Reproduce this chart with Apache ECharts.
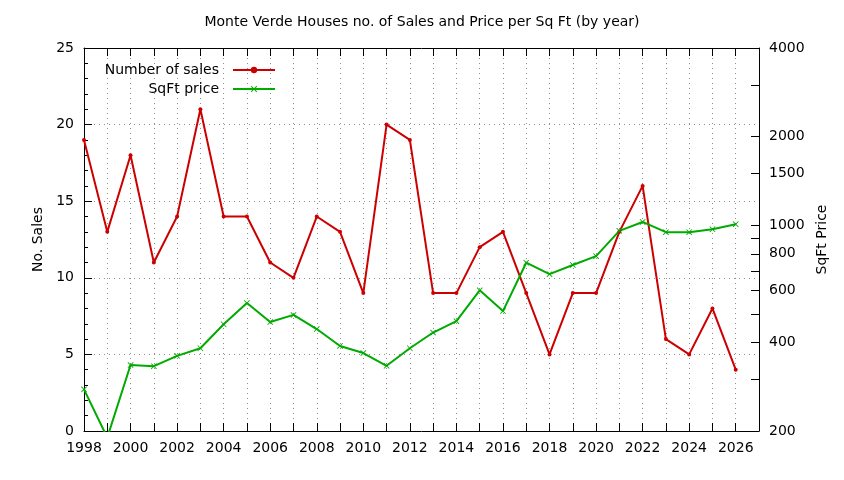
<!DOCTYPE html>
<html>
<head>
<meta charset="utf-8">
<script src="https://cdn.jsdelivr.net/npm/echarts@6/dist/echarts.min.js"></script>
<style>
  html, body { margin: 0; padding: 0; background: #fff; }
  #chart { width: 844px; height: 480px; }
</style>
</head>
<body>
<div id="chart"></div>
<script>
// years on the x axis
const years = [1998, 1999, 2000, 2001, 2002, 2003, 2004, 2005, 2006, 2007,
  2008, 2009, 2010, 2011, 2012, 2013, 2014, 2015, 2016, 2017,
  2018, 2019, 2020, 2021, 2022, 2023, 2024, 2025, 2026];

// number of sales (left axis)
const salesCount = [19, 13, 18, 11, 14, 21, 14, 14, 11, 10,
  14, 13, 9, 20, 19, 9, 9, 12, 13, 9,
  5, 9, 9, 13, 16, 6, 5, 8, 4];

// price per sq ft (right log axis)
const sqftPrice = [277, 190, 335, 332, 360, 382, 461, 544, 469, 496,
  444, 389, 368, 333, 382, 432, 472, 601, 511, 746,
  682, 733, 785, 957, 1026, 947, 947, 969, 1008];

const priceLabels = [200, 400, 600, 800, 1000, 1500, 2000, 4000];
const priceTicks = [200, 300, 400, 500, 600, 700, 800, 900, 1000, 1500, 2000, 3000, 4000];

const FONT = 'DejaVu Sans';
// small "x" marker like gnuplot's point type
const crossPath = 'path://M0,1L1,0L5,4L9,0L10,1L6,5L10,9L9,10L5,6L1,10L0,9L4,5Z';

const chart = echarts.init(document.getElementById('chart'));

const legendText = { fontFamily: FONT, fontSize: 14, color: '#000', padding: [0, 9, 0, 0] };
const gridLine = { show: true, lineStyle: { color: '#909090', type: [1, 4], width: 1 } };

chart.setOption({
  animation: false,
  backgroundColor: '#fff',
  textStyle: { fontFamily: FONT },
  title: {
    text: 'Monte Verde Houses no. of Sales and Price per Sq Ft (by year)',
    left: 'center',
    top: 10,
    textStyle: { fontFamily: FONT, fontSize: 14, fontWeight: 'normal', color: '#000' }
  },
  legend: [
    {
      data: ['Number of sales'],
      right: 563, top: 58,
      align: 'right',
      itemWidth: 42, itemHeight: 8, itemGap: 0,
      textStyle: legendText
    },
    {
      data: ['SqFt price'],
      right: 563, top: 77,
      align: 'right',
      itemWidth: 42, itemHeight: 8, itemGap: 0,
      textStyle: legendText
    }
  ],
  grid: { left: 84, right: 85, top: 48, bottom: 49 },
  xAxis: [
    {
      type: 'value',
      min: 1998, max: 2027, interval: 1,
      axisLine: { lineStyle: { color: '#000', width: 1 } },
      axisTick: { inside: true, length: 8, lineStyle: { color: '#000' } },
      axisLabel: {
        color: '#000', fontSize: 14, fontFamily: FONT, margin: 10,
        formatter: v => (v % 2 === 0 && v <= 2026 ? String(v) : '')
      },
      splitLine: gridLine
    },
    {
      type: 'value', position: 'top',
      min: 1998, max: 2027, interval: 1,
      axisLine: { lineStyle: { color: '#000', width: 1 } },
      axisTick: { inside: true, length: 8, lineStyle: { color: '#000' } },
      axisLabel: { show: false },
      splitLine: { show: false }
    }
  ],
  yAxis: [
    {
      type: 'value',
      min: 0, max: 25, interval: 5,
      name: 'No. Sales',
      nameLocation: 'middle',
      nameGap: 33,
      nameTextStyle: { color: '#000', fontSize: 14, fontFamily: FONT },
      axisLine: { show: true, lineStyle: { color: '#000', width: 1 } },
      axisTick: { inside: true, length: 8, lineStyle: { color: '#000' } },
      minorTick: { show: true, splitNumber: 5, length: 4, lineStyle: { color: '#000' } },
      axisLabel: { color: '#000', fontSize: 14, fontFamily: FONT, margin: 10 },
      splitLine: gridLine
    },
    {
      type: 'log',
      logBase: 10,
      min: 200, max: 4000,
      position: 'right',
      name: 'SqFt Price',
      nameLocation: 'middle',
      nameGap: 53,
      nameTextStyle: { color: '#000', fontSize: 14, fontFamily: FONT },
      axisLine: { show: true, lineStyle: { color: '#000', width: 1 } },
      axisTick: { inside: true, length: 8, customValues: priceTicks, lineStyle: { color: '#000' } },
      axisLabel: {
        color: '#000', fontSize: 14, fontFamily: FONT, margin: 10,
        customValues: priceLabels,
        formatter: v => String(Math.round(v))
      },
      splitLine: { show: false }
    }
  ],
  series: [
    {
      name: 'Number of sales',
      type: 'line',
      xAxisIndex: 0, yAxisIndex: 0,
      data: years.map((y, i) => [y, salesCount[i]]),
      symbol: 'circle', symbolSize: 4,
      showAllSymbol: true,
      clip: true,
      lineStyle: { color: '#cc0000', width: 2 },
      itemStyle: { color: '#cc0000' }
    },
    {
      name: 'SqFt price',
      type: 'line',
      xAxisIndex: 0, yAxisIndex: 1,
      data: years.map((y, i) => [y, sqftPrice[i]]),
      symbol: crossPath, symbolSize: 6,
      showAllSymbol: true,
      clip: true,
      lineStyle: { color: '#00aa00', width: 2 },
      itemStyle: { color: '#00aa00' }
    }
  ]
});
</script>
</body>
</html>
